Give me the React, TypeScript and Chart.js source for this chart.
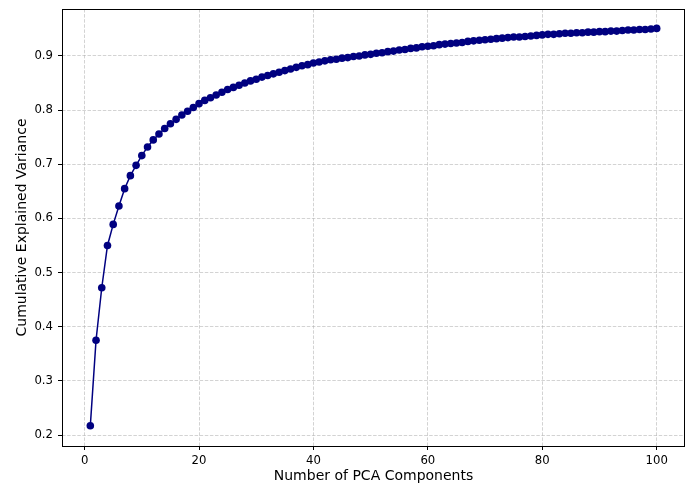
import React, { useEffect, useRef } from "react";
import { Chart, registerables } from "chart.js";

Chart.register(...registerables);

const components: number[] = [
  1, 2, 3, 4, 5, 6, 7, 8, 9, 10,
  11, 12, 13, 14, 15, 16, 17, 18, 19, 20,
  21, 22, 23, 24, 25, 26, 27, 28, 29, 30,
  31, 32, 33, 34, 35, 36, 37, 38, 39, 40,
  41, 42, 43, 44, 45, 46, 47, 48, 49, 50,
  51, 52, 53, 54, 55, 56, 57, 58, 59, 60,
  61, 62, 63, 64, 65, 66, 67, 68, 69, 70,
  71, 72, 73, 74, 75, 76, 77, 78, 79, 80,
  81, 82, 83, 84, 85, 86, 87, 88, 89, 90,
  91, 92, 93, 94, 95, 96, 97, 98, 99, 100,
];

const cumulativeVariance: number[] = [
  0.217, 0.375, 0.472, 0.55, 0.589, 0.623, 0.655, 0.679, 0.698, 0.716,
  0.732, 0.745, 0.756, 0.766, 0.775, 0.783, 0.791, 0.798, 0.805, 0.812,
  0.818, 0.823, 0.828, 0.833, 0.838, 0.842, 0.846, 0.85, 0.854, 0.857,
  0.861, 0.864, 0.867, 0.87, 0.873, 0.876, 0.879, 0.882, 0.884, 0.887,
  0.889, 0.891, 0.893, 0.894, 0.896, 0.897, 0.899, 0.9, 0.902, 0.903,
  0.905, 0.906, 0.908, 0.909, 0.911, 0.912, 0.914, 0.915, 0.917, 0.918,
  0.919, 0.921, 0.922, 0.923, 0.924, 0.925, 0.927, 0.928, 0.929, 0.93,
  0.931, 0.932, 0.933, 0.934, 0.935, 0.935, 0.936, 0.937, 0.938, 0.939,
  0.94, 0.94, 0.941, 0.942, 0.942, 0.943, 0.943, 0.944, 0.944, 0.945,
  0.945, 0.946, 0.946, 0.947, 0.948, 0.948, 0.949, 0.949, 0.95, 0.951,
];

const xTickValues: number[] = [0, 20, 40, 60, 80, 100];
const yTickValues: number[] = [0.2, 0.3, 0.4, 0.5, 0.6, 0.7, 0.8, 0.9];

const xLabel = "Number of PCA Components";
const yLabel = "Cumulative Explained Variance";

const FONT = "'DejaVu Sans', sans-serif";

const framePlugin = {
  id: "frame",
  afterDraw(chart: any) {
    const { ctx, chartArea } = chart;
    ctx.save();
    ctx.strokeStyle = "#000";
    ctx.lineWidth = 1;
    ctx.strokeRect(
      Math.round(chartArea.left) + 0.5,
      Math.round(chartArea.top) + 0.5,
      Math.round(chartArea.right - chartArea.left) - 1,
      Math.round(chartArea.bottom - chartArea.top)
    );
    ctx.restore();
  },
};

const gridOpts = {
  color: "rgba(176,176,176,0.7)",
  lineWidth: 0.8,
  drawTicks: true,
  tickLength: 4,
  tickColor: "#000",
  tickWidth: 1,
  tickBorderDash: [],
};

export default function App() {
  const ref = useRef<HTMLCanvasElement | null>(null);

  useEffect(() => {
    document.body.style.margin = "0";
    if (!ref.current) return;
    const points = components.map((c, i) => ({ x: c, y: cumulativeVariance[i] }));
    const chart = new Chart(ref.current, {
      type: "line",
      data: {
        datasets: [
          {
            data: points,
            borderColor: "#000080",
            backgroundColor: "#000080",
            pointBackgroundColor: "#000080",
            pointBorderColor: "#000080",
            borderWidth: 1.5,
            pointRadius: 3.8,
            pointBorderWidth: 0,
            pointHoverRadius: 3.8,
            tension: 0,
          },
        ],
      },
      options: {
        animation: false,
        responsive: false,
        events: [],
        layout: { padding: { left: 0, top: 9, right: 6, bottom: 0 } },
        plugins: {
          legend: { display: false },
          tooltip: { enabled: false },
        },
        scales: {
          x: {
            type: "linear",
            min: -3.95,
            max: 104.95,
            afterFit(scale: any) {
              scale.height = 39;
              scale.paddingLeft = 0;
              scale.paddingRight = 0;
              scale.paddingTop = 0;
              scale.paddingBottom = 0;
            },
            afterBuildTicks(scale: any) {
              scale.ticks = xTickValues.map((v) => ({ value: v }));
            },
            ticks: {
              font: { family: FONT, size: 11.7 },
              color: "#000",
              padding: 4,
              maxRotation: 0,
              callback: (v: any) => String(v),
            },
            grid: gridOpts,
            border: { display: false, dash: [3.5, 1.6] },
            title: {
              display: true,
              text: xLabel,
              font: { family: FONT, size: 14 },
              color: "#000",
              padding: { top: -2.5, bottom: 0 },
            },
          },
          y: {
            type: "linear",
            min: 0.1797,
            max: 0.9868,
            afterFit(scale: any) {
              scale.width = 62;
              scale.paddingLeft = 0;
              scale.paddingRight = 0;
              scale.paddingTop = 0;
              scale.paddingBottom = 0;
            },
            afterBuildTicks(scale: any) {
              scale.ticks = yTickValues.map((v) => ({ value: v }));
            },
            ticks: {
              font: { family: FONT, size: 11.7 },
              color: "#000",
              padding: 5,
              callback: (v: any) => Number(v).toFixed(1),
            },
            grid: gridOpts,
            border: { display: false, dash: [3.5, 1.6] },
            title: {
              display: true,
              text: yLabel,
              font: { family: FONT, size: 14 },
              color: "#000",
              padding: { top: 13.6, bottom: 0 },
            },
          },
        },
      },
      plugins: [framePlugin],
    });
    return () => chart.destroy();
  }, []);

  return (
    <div style={{ position: "absolute", left: 0, top: 0, width: 691, height: 485, background: "#fff" }}>
      <canvas ref={ref} width={691} height={485} style={{ width: 691, height: 485, display: "block" }} />
    </div>
  );
}
